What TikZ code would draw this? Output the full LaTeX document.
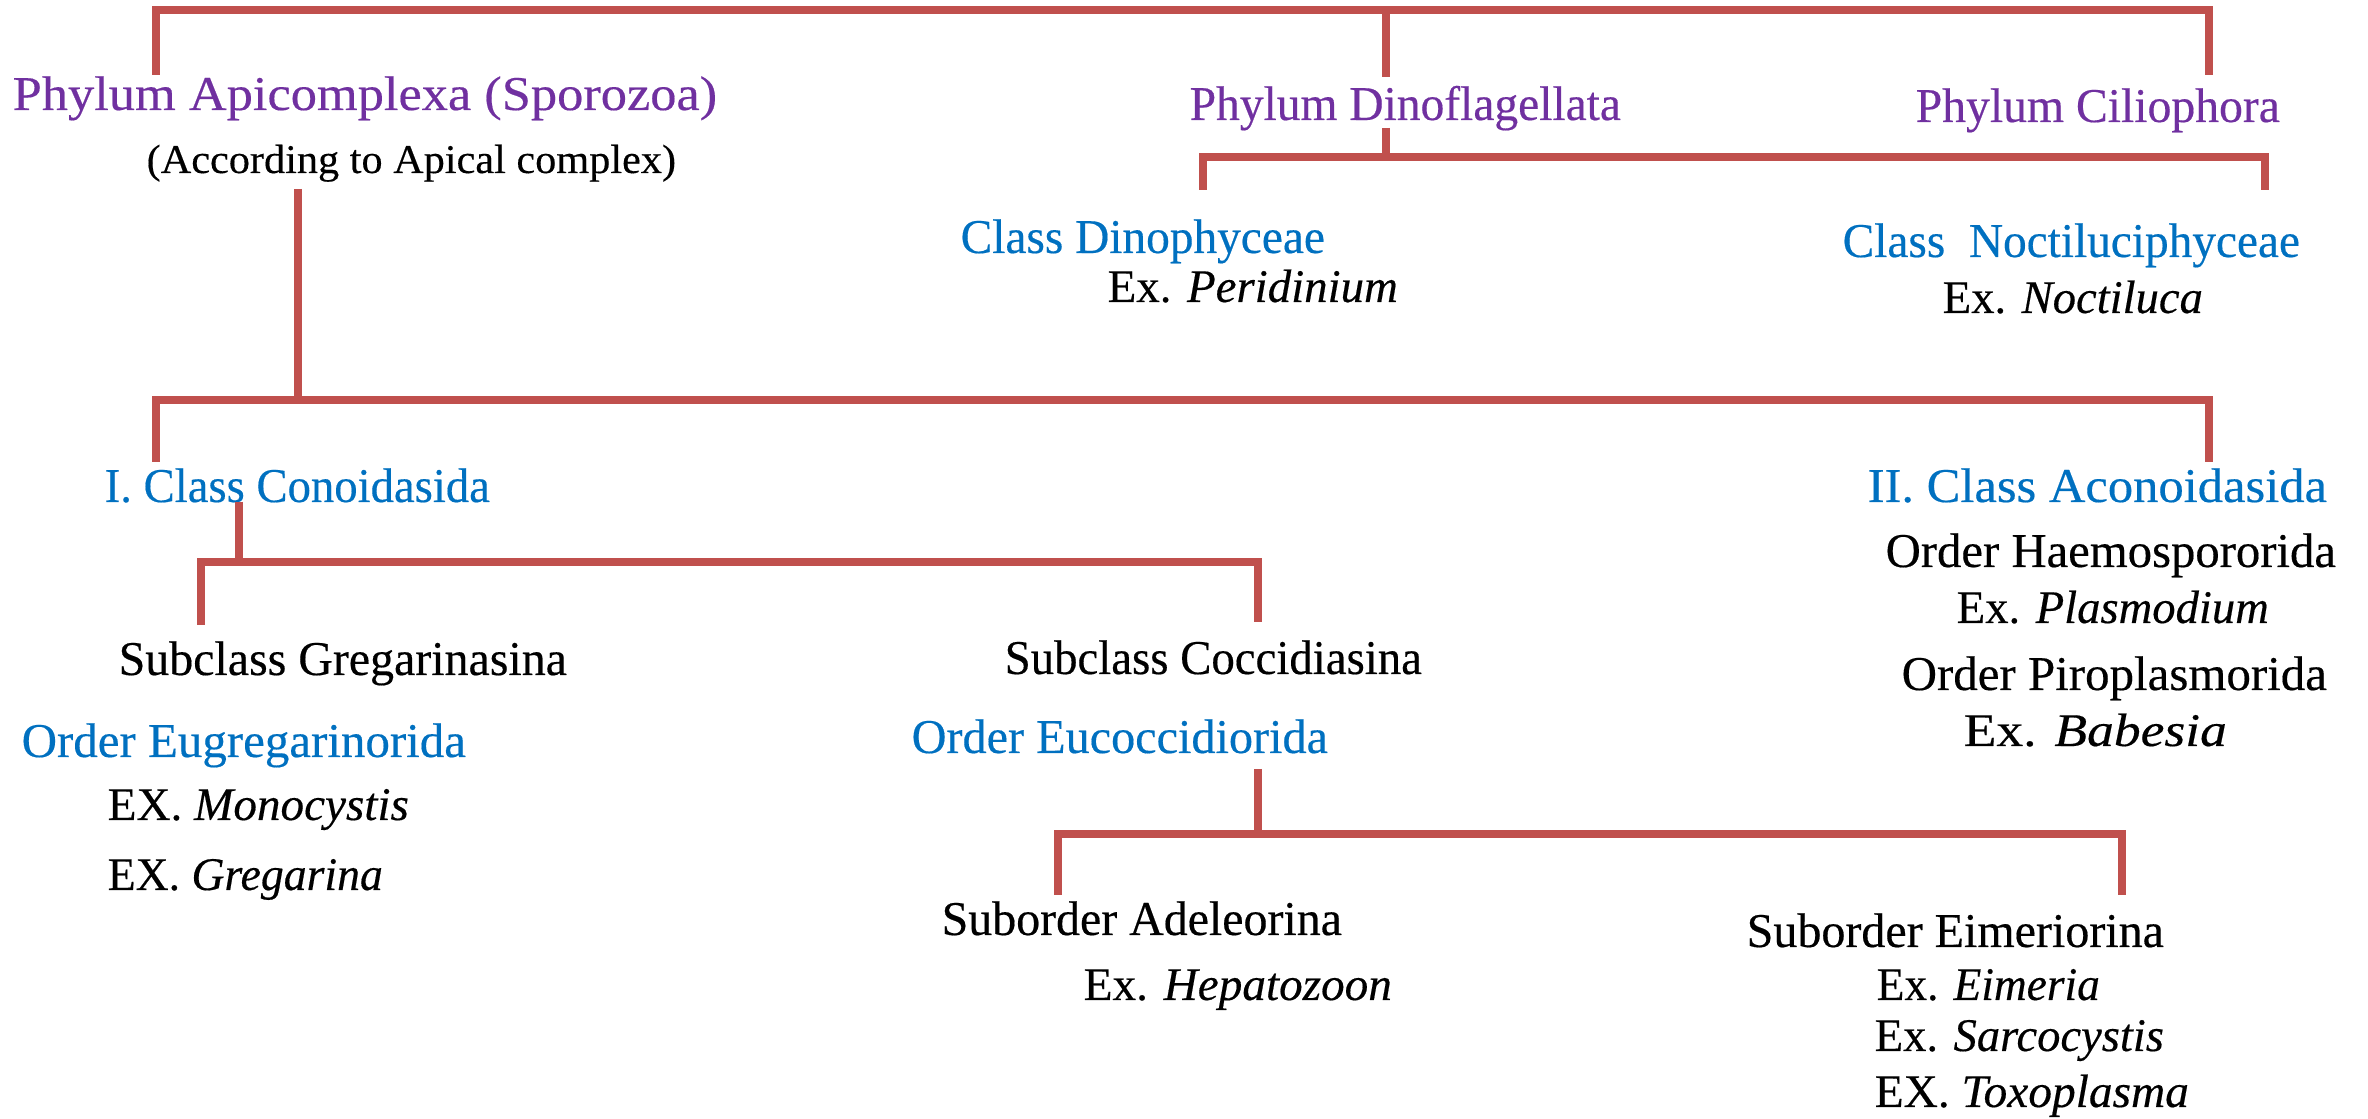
\documentclass[tikz,border=0pt]{standalone}
\usepackage{fontspec}
\setmainfont{Liberation Serif}[FakeBold=0.35]
\usepackage{graphicx}
\definecolor{linered}{HTML}{C0504D}
\definecolor{phylum}{HTML}{7030A0}
\definecolor{classblue}{HTML}{0070C0}
\newsavebox\fitbox
\newlength\fitlen
\newcommand\fitw[2]{\sbox\fitbox{#2}\setlength\fitlen{\wd\fitbox}\pgfmathsetmacro\fitr{#1*0.284528pt/\fitlen}\scalebox{\fitr}[1]{\usebox\fitbox}}
\tikzset{
  conn/.style={draw=linered, line width=2pt, line join=miter, line cap=butt},
  lbl/.style={anchor=base west, inner sep=0pt, font=\fontsize{13.8}{15}\selectfont},
  phy/.style={lbl, text=phylum},
  cls/.style={lbl, text=classblue},
  blk/.style={lbl, text=black},
  ex/.style={lbl, text=black, font=\fontsize{13.3}{15}\selectfont},
}
\begin{document}
\begin{tikzpicture}[x=0.01cm, y=-0.01cm]
\useasboundingbox (0,0) rectangle (2368,1119);
% texts
\node[phy] (apic) at (12,110) {\fitw{704}{Phylum Apicomplexa (Sporozoa)}};
\node[blk, font=\fontsize{11.6}{13}\selectfont] (acc) at (146,173) {\fitw{529}{(According to Apical complex)}};
\node[phy] (dino) at (1189,120) {\fitw{431}{Phylum Dinoflagellata}};
\node[phy] (cil) at (1915,122) {\fitw{364}{Phylum Ciliophora}};
\node[cls] (dinoph) at (960,253) {\fitw{364}{Class Dinophyceae}};
\node[ex] (peri) at (1107,302) {\fitw{290}{Ex. \textit{Peridinium}}};
\node[cls] (noct) at (1842,257) {\fitw{457}{Class\ \ Noctiluciphyceae}};
\node[ex] (noctex) at (1942,313) {\fitw{260}{Ex. \textit{Noctiluca}}};
\node[cls] (conoid) at (104,502) {\fitw{385}{I. Class Conoidasida}};
\node[cls] (aconoid) at (1867,502) {\fitw{459}{II. Class Aconoidasida}};
\node[blk] (haemo) at (1885,567) {\fitw{450}{Order Haemospororida}};
\node[ex] (plasm) at (1956,623) {\fitw{312}{Ex. \textit{Plasmodium}}};
\node[blk] (piro) at (1901,690) {\fitw{425}{Order Piroplasmorida}};
\node[ex] (babe) at (1963,746) {\fitw{263}{Ex. \textit{Babesia}}};
\node[blk] (greg) at (118,675) {\fitw{448}{Subclass Gregarinasina}};
\node[blk] (cocc) at (1004,674) {\fitw{417}{Subclass Coccidiasina}};
\node[cls] (eugreg) at (21,757) {\fitw{444}{Order Eugregarinorida}};
\node[cls] (eucocc) at (911,753) {\fitw{416}{Order Eucoccidiorida}};
\node[ex] (mono) at (107,820) {\fitw{301}{EX. \textit{Monocystis}}};
\node[ex] (gregex) at (107,890) {\fitw{275}{EX. \textit{Gregarina}}};
\node[blk] (adel) at (941,935) {\fitw{400}{Suborder Adeleorina}};
\node[ex] (hepa) at (1083,1000) {\fitw{308}{Ex. \textit{Hepatozoon}}};
\node[blk] (eim) at (1746,947) {\fitw{417}{Suborder Eimeriorina}};
\node[ex] (eimex) at (1876,1000) {\fitw{223}{Ex. \textit{Eimeria}}};
\node[ex] (sarc) at (1874,1051) {\fitw{289}{Ex. \textit{Sarcocystis}}};
\node[ex] (toxo) at (1874,1107) {\fitw{314}{EX. \textit{Toxoplasma}}};
% connector joints
\coordinate (t1) at (156,75);
\coordinate (tl) at (156,10);
\coordinate (tr) at (2209,10);
\coordinate (t2) at (2209,75);
\coordinate (tm) at (1386,77);
\coordinate (tmtop) at (1386,10);
\coordinate (dtop) at (1386,128);
\coordinate (dmid) at (1386,157);
\coordinate (dl) at (1203,157);
\coordinate (dl2) at (1203,190);
\coordinate (dr) at (2265,157);
\coordinate (dr2) at (2265,190);
\coordinate (atop) at (298,189);
\coordinate (amid) at (298,400);
\coordinate (al) at (156,400);
\coordinate (al2) at (156,462);
\coordinate (ar) at (2209,400);
\coordinate (ar2) at (2209,462);
\coordinate (ctop) at (239,502);
\coordinate (cmid) at (239,562);
\coordinate (cl) at (201,562);
\coordinate (cl2) at (201,625);
\coordinate (cr) at (1258,562);
\coordinate (cr2) at (1258,622);
\coordinate (etop) at (1258,769);
\coordinate (emid) at (1258,834);
\coordinate (el) at (1058,834);
\coordinate (el2) at (1058,895);
\coordinate (er) at (2122,834);
\coordinate (er2) at (2122,895);
% connectors
\draw[conn] (t1) -- (tl) -- (tr) -- (t2);
\draw[conn] (tm) -- (tmtop);
\draw[conn] (dtop) -- (dmid);
\draw[conn] (dl2) -- (dl) -- (dr) -- (dr2);
\draw[conn] (atop) -- (amid);
\draw[conn] (al2) -- (al) -- (ar) -- (ar2);
\draw[conn] (ctop) -- (cmid);
\draw[conn] (cl2) -- (cl) -- (cr) -- (cr2);
\draw[conn] (etop) -- (emid);
\draw[conn] (el2) -- (el) -- (er) -- (er2);
\end{tikzpicture}
\end{document}
